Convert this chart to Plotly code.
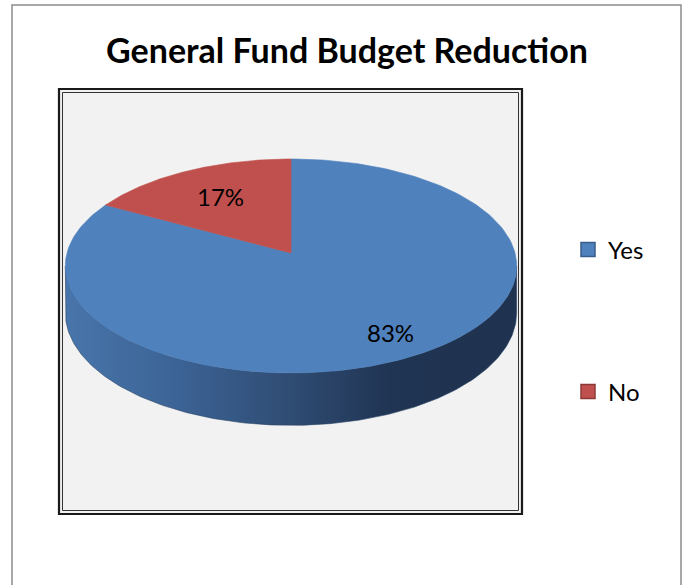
import numpy as np
import plotly.graph_objects as go

# ---- data ----
categories = ["Yes", "No"]
values = [83, 17]
slice_colors = ["#4f81bd", "#c0504d"]
swatch_borders = ["#385d8a", "#8c3836"]

# ---- page geometry (pixel units on hidden axes) ----
W, H = 686, 585
CX, CY = 291, 253          # pie centre on the top face
R, A = 224, 105.4          # horizontal radius and vertical half-axis
K = -0.1215                # perspective strength (near edge appears larger)
DEPTH = 46                 # thickness of the pie
LABEL_R = [0.80, 0.66]     # radial position of each percentage label

def project(u, v, drop=0.0):
    """Map a point on the unit disk (u right, v toward viewer) to the page."""
    w = 1 + K * v
    return CX + R * u / w, CY + (A * v + drop) / w

def arc(f0, f1, drop=0.0, n=200):
    phi = np.linspace(f0, f1, n) * 2 * np.pi
    u, v = np.sin(phi), -np.cos(phi)
    return project(u, v, drop)

fig = go.Figure()

shares = np.array(values, dtype=float) / sum(values)
starts = np.concatenate([[0], np.cumsum(shares)[:-1]])

# ---- side wall (front half, visible between the silhouette points) ----
phi_sil = np.arccos(K) / (2 * np.pi)          # fraction where v = -K
f_left, f_right = 1 - phi_sil, phi_sil
tx, ty = arc(f_right, f_left)
bx, by = arc(f_left, f_right, drop=DEPTH)
fig.add_trace(go.Scatter(
    x=np.concatenate([tx, bx, tx[:1]]), y=np.concatenate([ty, by, ty[:1]]),
    mode="lines", fill="toself", line=dict(width=0.6, color="#2a4466"),
    fillgradient=dict(type="horizontal", colorscale=[
        [0.0, "#4875ab"], [0.25, "#3c6395"], [0.5, "#2f4c73"],
        [0.72, "#203453"], [1.0, "#1f3350"]]),
    hoverinfo="skip", showlegend=False))

# ---- top face slices ----
for i, (cat, s0, sh) in enumerate(zip(categories, starts, shares)):
    ax_, ay_ = arc(s0, s0 + sh)
    x = np.concatenate([[CX], ax_, [CX]])
    y = np.concatenate([[CY], ay_, [CY]])
    fig.add_trace(go.Scatter(
        x=x, y=y, mode="lines", fill="toself", fillcolor=slice_colors[i],
        line=dict(width=0.6, color=slice_colors[i]),
        hoverinfo="skip", showlegend=False))
    mid = (s0 + sh / 2) * 2 * np.pi
    r = LABEL_R[i]
    lx, ly = project(r * np.sin(mid), -r * np.cos(mid))
    fig.add_annotation(x=lx, y=ly, text=f"{values[i]}%", showarrow=False,
                       font=dict(family="Lato", size=24, color="#000000"),
                       xanchor="center", yanchor="middle")

# ---- legend entries ----
legend_names = ["legend", "legend2"]
for i, cat in enumerate(categories):
    fig.add_trace(go.Scatter(
        x=[None], y=[None], mode="markers", name=cat,
        marker=dict(symbol="square", size=14, color=slice_colors[i],
                    line=dict(width=1.5, color=swatch_borders[i])),
        legend=legend_names[i]))

legend_style = dict(xanchor="left", yanchor="middle", bgcolor="rgba(0,0,0,0)",
                    font=dict(family="Lato", size=24, color="#000000"),
                    itemwidth=30, tracegroupgap=0)

# ---- frames ----
shapes = [
    dict(type="rect", x0=12, x1=681, y0=5, y1=H + 5,
         line=dict(color="#8c8c8c", width=1.5), layer="below"),
    dict(type="rect", x0=59, x1=522, y0=89, y1=514,
         line=dict(color="#1a1a1a", width=2.2), fillcolor="#f2f2f2", layer="below"),
    dict(type="rect", x0=62.5, x1=518.5, y0=92.5, y1=510.5,
         line=dict(color="#333333", width=1), layer="below"),
]

fig.update_layout(
    width=W, height=H,
    margin=dict(l=0, r=0, t=0, b=0),
    paper_bgcolor="#ffffff", plot_bgcolor="#ffffff",
    xaxis=dict(range=[0, W], visible=False, fixedrange=True, domain=[0, 1]),
    yaxis=dict(range=[H, 0], visible=False, fixedrange=True, domain=[0, 1]),
    shapes=shapes,
    title=dict(text="<b>General Fund Budget Reduction</b>",
               x=347 / W, xanchor="center", y=1 - 51 / H, yanchor="middle",
               font=dict(family="Lato", size=34, color="#000000")),
    legend=dict(x=568 / W, y=1 - 250 / H, **legend_style),
    legend2=dict(x=568 / W, y=1 - 392 / H, **legend_style),
)

fig.write_html("out.html")
